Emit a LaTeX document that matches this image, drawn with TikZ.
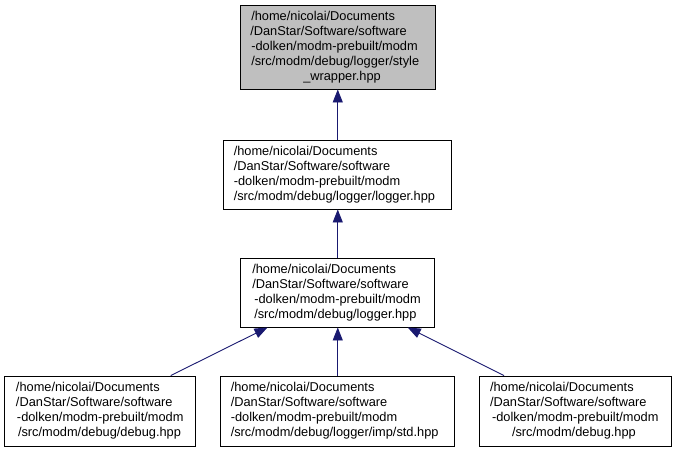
\documentclass[tikz,border=0pt]{standalone}
\usepackage{fontspec}
\setmainfont{Liberation Sans}
\usetikzlibrary{arrows.meta}
\definecolor{edgeblue}{HTML}{191970}
\definecolor{topgray}{HTML}{BFBFBF}
\newlength{\plinew}
\newcommand{\pline}[2][0pt]{\makebox[\plinew][l]{\hskip #1\relax #2}}
\tikzset{
  linew/.code={\setlength{\plinew}{#1}},
  filebox/.style={draw=black, line width=0.9pt, inner ysep=0pt, align=left,
    font=\fontsize{12.8}{15}\selectfont},
  edge/.style={draw=edgeblue, line width=0.9pt,
    -{Triangle[length=13pt,width=10pt]}},
}
\begin{document}
\begin{tikzpicture}[x=1pt,y=-1pt]
\path[use as bounding box] (0,0) rectangle (676,452);
\node[filebox, fill=topgray, inner xsep=11pt, linew=173pt, minimum height=84pt] (top) at (337.75,47)
  {\pline{/home/nicolai/Documents}\\ \pline[-1pt]{/DanStar/Software/software}\\ \pline{-dolken/modm-prebuilt/modm}\\ \pline{/src/modm/debug/logger/style}\\ \pline[52pt]{\_wrapper.hpp}};
\node[filebox, inner xsep=10pt, linew=208pt, minimum height=69pt] (mid) at (337.75,174.5)
  {\pline{/home/nicolai/Documents}\\ \pline{/DanStar/Software/software}\\ \pline{-dolken/modm-prebuilt/modm}\\ \pline{/src/modm/debug/logger/logger.hpp}};
\node[filebox, inner xsep=11.5pt, linew=171pt, minimum height=69pt] (log) at (337.75,292.5)
  {\pline{/home/nicolai/Documents}\\ \pline{/DanStar/Software/software}\\ \pline[2pt]{-dolken/modm-prebuilt/modm}\\ \pline[2pt]{/src/modm/debug/logger.hpp}};
\node[filebox, inner xsep=12pt, linew=167pt, minimum height=70pt] (b1) at (99.5,411)
  {\pline{/home/nicolai/Documents}\\ \pline{/DanStar/Software/software}\\ \pline[1pt]{-dolken/modm-prebuilt/modm}\\ \pline[2pt]{/src/modm/debug/debug.hpp}};
\node[filebox, inner xsep=10pt, linew=214pt, minimum height=70pt] (b2) at (337.75,411)
  {\pline{/home/nicolai/Documents}\\ \pline{/DanStar/Software/software}\\ \pline{-dolken/modm-prebuilt/modm}\\ \pline{/src/modm/debug/logger/imp/std.hpp}};
\node[filebox, inner xsep=11pt, linew=170pt, minimum height=70pt] (b3) at (575,411)
  {\pline{/home/nicolai/Documents}\\ \pline{/DanStar/Software/software}\\ \pline[2pt]{-dolken/modm-prebuilt/modm}\\ \pline[22pt]{/src/modm/debug.hpp}};
\draw[edge] (mid) -- (top);
\draw[edge] (log) -- (mid);
\draw[edge] (b1) -- (log);
\draw[edge] (b2) -- (log);
\draw[edge] (b3) -- (log);
\end{tikzpicture}
\end{document}
